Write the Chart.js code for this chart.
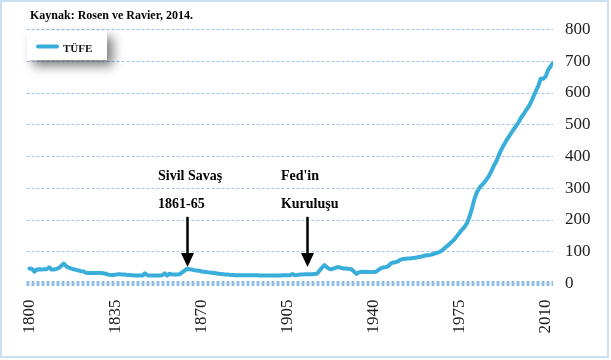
<!DOCTYPE html>
<html>
<head>
<meta charset="utf-8">
<script src="https://cdn.jsdelivr.net/npm/chart.js@4.4.0/dist/chart.umd.min.js"></script>
<style>
  html, body { margin: 0; padding: 0; background: #fff; }
  #frame { position: absolute; left: 0; top: 0; width: 609px; height: 358px; box-sizing: border-box; border: 2px solid #cadff2; }
  #wrap { position: absolute; left: 0; top: 0; width: 611px; height: 360px; }
</style>
</head>
<body>
<div id="frame"></div>
<div id="wrap"><canvas id="myChart" width="611" height="360"></canvas></div>
<script>
// ---------------- data ----------------
var firstYear = 1800;
var seriesName = 'TÜFE';
var sourceText = 'Kaynak: Rosen ve Ravier, 2014.';
var xTicks = [1800, 1835, 1870, 1905, 1940, 1975, 2010];
var yMax = 800;
var yStep = 100;
// one value per year, 1800 .. 2013
var tufe = [
  47, 46, 37, 44, 45, 44, 45, 45, 51, 44,        // 1800
  44, 46, 49, 56, 63, 54, 50, 47, 45, 43,        // 1810
  41, 39, 38, 34, 33, 33, 33, 33, 33, 33,        // 1820
  32, 31, 28, 27, 27, 28, 29, 29, 28, 28,        // 1830
  27, 27, 26, 25, 25, 25, 25, 32, 26, 25,        // 1840
  25, 25, 25, 25, 26, 32, 25, 31, 28, 28,        // 1850
  28, 29, 34, 40, 46, 45, 44, 42, 41, 40,        // 1860
  38, 37, 36, 35, 34, 33, 32, 31, 30, 29,        // 1870
  28, 28, 27, 27, 26, 26, 26, 26, 26, 26,        // 1880
  26, 26, 26, 26, 25, 25, 25, 25, 25, 25,        // 1890
  25, 25, 25, 26, 26, 26, 26, 30, 26, 27,        // 1900
  28, 28, 29, 29, 29, 29, 30, 31, 40, 50,        // 1910
  58, 51, 46, 45, 48, 51, 51, 49, 47, 47,        // 1920
  46, 45, 38, 30, 35, 37, 36, 37, 36, 36,        // 1930
  36, 37, 43, 48, 51, 51, 55, 63, 66, 67,        // 1940
  70, 75, 77, 78, 79, 79, 80, 81, 83, 84,        // 1950
  86, 88, 89, 90, 92, 95, 97, 100, 105, 112,     // 1960
  118, 125, 132, 140, 150, 160, 170, 178, 190, 210, // 1970
  235, 265, 287, 300, 310, 318, 328, 340, 355, 372, // 1980
  385, 405, 422, 436, 450, 462, 474, 486, 496, 508, // 1990
  522, 533, 545, 556, 570, 588, 606, 622, 645, 645, // 2000
  652, 672, 684, 695                              // 2010
];

// annotations (text + arrow), placed in data units
var notes = [
  { lines: ['Sivil Savaş', '1861-65'], textYear: 1852.3, arrowYear: 1864 },
  { lines: ["Fed'in", 'Kuruluşu'], textYear: 1902.3, arrowYear: 1913 }
];

// ---------------- styles ----------------
var lineColor = '#3aaedb';
var gridColor = '#9ec4ea';
var zeroColor = '#92bde6';
var serif = '"Liberation Serif", "Times New Roman", serif';

var points = tufe.map(function (v, i) { return { x: firstYear + i, y: v }; });

// title, legend box and arrows
var extras = {
  id: 'extras',
  afterDraw: function (chart) {
    var ctx = chart.ctx;
    var xs = chart.scales.x;
    var ys = chart.scales.y;

    // source line
    ctx.save();
    ctx.fillStyle = '#000';
    ctx.font = 'bold 12px ' + serif;
    ctx.textBaseline = 'alphabetic';
    ctx.fillText(sourceText, 30, 18.5);
    ctx.restore();

    // legend box with shadow
    ctx.save();
    ctx.shadowColor = 'rgba(0,0,0,0.5)';
    ctx.shadowBlur = 11;
    ctx.shadowOffsetX = 6;
    ctx.shadowOffsetY = 6;
    ctx.fillStyle = '#fff';
    ctx.fillRect(27, 31, 80, 29);
    ctx.restore();
    ctx.save();
    ctx.strokeStyle = lineColor;
    ctx.lineWidth = 4;
    ctx.lineCap = 'round';
    ctx.beginPath();
    ctx.moveTo(38, 46.5);
    ctx.lineTo(57, 46.5);
    ctx.stroke();
    ctx.fillStyle = '#111';
    ctx.font = 'bold 11px ' + serif;
    ctx.textBaseline = 'alphabetic';
    ctx.fillText(chart.data.datasets[0].label, 63, 51.5);
    ctx.restore();

    // annotations
    notes.forEach(function (n) {
      ctx.save();
      ctx.fillStyle = '#000';
      ctx.font = 'bold 14px ' + serif;
      var tx = xs.getPixelForValue(n.textYear);
      ctx.fillText(n.lines[0], tx, ys.getPixelForValue(327));
      ctx.fillText(n.lines[1], tx, ys.getPixelForValue(238));
      var ax = Math.round(xs.getPixelForValue(n.arrowYear)) + 0.5;
      var top = ys.getPixelForValue(210);
      var tip = ys.getPixelForValue(52);
      ctx.strokeStyle = '#000';
      ctx.lineWidth = 2.5;
      ctx.beginPath();
      ctx.moveTo(ax, top);
      ctx.lineTo(ax, tip - 10);
      ctx.stroke();
      ctx.beginPath();
      ctx.moveTo(ax - 6.5, tip - 14);
      ctx.lineTo(ax + 6.5, tip - 14);
      ctx.lineTo(ax, tip);
      ctx.closePath();
      ctx.fill();
      ctx.restore();
    });
  }
};

var ctx = document.getElementById('myChart').getContext('2d');
var myChart = new Chart(ctx, {
  type: 'line',
  data: {
    datasets: [{
      label: seriesName,
      data: points,
      borderColor: lineColor,
      borderWidth: 4,
      pointRadius: 0,
      tension: 0,
      borderJoinStyle: 'round',
      borderCapStyle: 'round',
      fill: false
    }]
  },
  options: {
    responsive: false,
    animation: false,
    layout: { padding: { left: 26.5, top: 29.5, right: 0, bottom: 0 } },
    plugins: {
      legend: { display: false },
      tooltip: { enabled: false }
    },
    scales: {
      x: {
        type: 'linear',
        min: 1798.8,
        max: 2013,
        afterBuildTicks: function (scale) {
          scale.ticks = xTicks.map(function (v) { return { value: v }; });
        },
        afterFit: function (scale) { scale.height = 76.5; },
        grid: { display: false, drawTicks: false },
        border: { display: false },
        ticks: {
          autoSkip: false,
          minRotation: 90,
          maxRotation: 90,
          padding: 16,
          color: '#222',
          font: { family: serif, size: 17 },
          callback: function (v) { return String(v); }
        }
      },
      y: {
        position: 'right',
        min: 0,
        max: yMax,
        afterFit: function (scale) { scale.width = 58; },
        grid: {
          drawTicks: false,
          color: function (c) { return c.tick && c.tick.value === 0 ? zeroColor : gridColor; },
          lineWidth: function (c) { return c.tick && c.tick.value === 0 ? 5 : 1; }
        },
        border: { display: false, dash: [3, 2] },
        ticks: {
          stepSize: yStep,
          padding: 12,
          color: '#222',
          font: { family: serif, size: 17 }
        }
      }
    }
  },
  plugins: [extras]
});
</script>
</body>
</html>
